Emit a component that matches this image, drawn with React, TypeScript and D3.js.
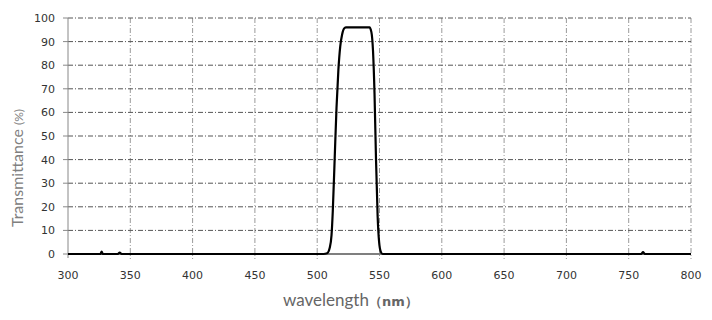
import * as d3 from 'd3';
import { useRef, useEffect } from "react"

// spectrum
const wavelengths = [300, 326, 327, 328, 340, 341.5, 343, 505, 508, 510, 511.5, 512.5, 514, 515.5, 517, 518.5, 520, 521.5, 523, 540, 542, 543.5, 544.8, 546, 547.2, 548.5, 549.7, 551, 552.5, 760, 761.5, 763, 800]
const transmittance = [0, 0, 1, 0, 0, 0.6, 0, 0, 0.3, 2.5, 8, 18, 40, 62, 78, 88, 93, 95.5, 96, 96, 96, 94, 86, 68, 40, 16, 5, 1, 0, 0, 0.8, 0, 0]

const xTicks = [300, 350, 400, 450, 500, 550, 600, 650, 700, 750, 800]
const yTicks = [0, 10, 20, 30, 40, 50, 60, 70, 80, 90, 100]

function App() {
    const ref = useRef<SVGSVGElement | null>(null)

    useEffect(() => {
        renderChart();
    }, [])

    function renderChart() {
        const margin = { top: 18, right: 21, bottom: 66, left: 68 }
        const W = 712, H = 320
        const width = W - margin.left - margin.right
        const height = H - margin.top - margin.bottom

        const root = d3.select(ref.current!)
        root.selectAll("*").remove()
        const svg = root.append("g")
            .attr("transform", "translate(" + margin.left + "," + margin.top + ")")

        const x = d3.scaleLinear().domain([300, 800]).range([0, width])
        const y = d3.scaleLinear().domain([0, 100]).range([height, 0])

        const font = "'DejaVu Sans', Verdana, sans-serif"
        const titleFont = "Lato, 'Open Sans', sans-serif"

        // vertical grid (lighter), extend a bit below the axis as ticks
        svg.append("g")
            .selectAll("line")
            .data(xTicks.slice(1))
            .enter()
            .append("line")
            .attr("x1", d => x(d)).attr("x2", d => x(d))
            .attr("y1", 0).attr("y2", height + 5)
            .attr("stroke", "#9a9a9a")
            .attr("stroke-width", 1)
            .attr("stroke-dasharray", "5,2,1,2")

        // horizontal grid
        svg.append("g")
            .selectAll("line")
            .data(yTicks.slice(1))
            .enter()
            .append("line")
            .attr("x1", 0).attr("x2", width)
            .attr("y1", d => y(d)).attr("y2", d => y(d))
            .attr("stroke", "#555")
            .attr("stroke-width", 1)
            .attr("stroke-dasharray", "5,2,1,2")

        // left axis
        svg.append("line")
            .attr("x1", 0).attr("x2", 0)
            .attr("y1", 0).attr("y2", height + 4)
            .attr("stroke", "#888")
        svg.append("g")
            .selectAll("line")
            .data(yTicks)
            .enter()
            .append("line")
            .attr("x1", -5).attr("x2", 0)
            .attr("y1", d => y(d)).attr("y2", d => y(d))
            .attr("stroke", "#888")

        // bottom axis line
        svg.append("line")
            .attr("x1", 0).attr("x2", width)
            .attr("y1", height).attr("y2", height)
            .attr("stroke", "#555")
            .attr("stroke-width", 1.5)

        // tick labels
        svg.append("g")
            .selectAll("text")
            .data(yTicks)
            .enter()
            .append("text")
            .attr("x", -13)
            .attr("y", d => y(d) + 4)
            .attr("text-anchor", "end")
            .attr("font-family", font)
            .attr("font-size", 11)
            .attr("fill", "#333")
            .text(d => d)

        svg.append("g")
            .selectAll("text")
            .data(xTicks)
            .enter()
            .append("text")
            .attr("x", d => x(d))
            .attr("y", height + 25)
            .attr("text-anchor", "middle")
            .attr("font-family", font)
            .attr("font-size", 11)
            .attr("fill", "#333")
            .text(d => d)

        // curve
        const pts = wavelengths.map((w, i) => [w, transmittance[i]] as [number, number])
        const line = d3.line<[number, number]>()
            .x(d => x(d[0]))
            .y(d => y(d[1]))
            .curve(d3.curveMonotoneX)
        svg.append("path")
            .datum(pts)
            .attr("d", line)
            .attr("fill", "none")
            .attr("stroke", "#000")
            .attr("stroke-width", 2.2)
            .attr("stroke-linejoin", "round")

        // axis titles
        const xt = svg.append("text")
            .attr("x", 215)
            .attr("y", height + 52)
            .attr("text-anchor", "start")
            .attr("font-family", titleFont)
            .attr("font-size", 17)
            .attr("fill", "#666")
        xt.append("tspan").text("wavelength")
        xt.append("tspan").attr("font-size", 13).attr("font-weight", "bold").attr("font-family", font).text("（nm）")

        const yt = svg.append("text")
            .attr("transform", "translate(-45," + (height / 2 + 32) + ") rotate(-90)")
            .attr("text-anchor", "middle")
            .attr("font-family", titleFont)
            .attr("font-size", 16)
            .attr("fill", "#808080")
        yt.append("tspan").text("Transmittance  ")
        yt.append("tspan").attr("font-size", 12).text("(%)")
    }

    return (
        <svg
            width={712}
            height={320}
            ref={ref}
            style={{ position: 'absolute', left: 0, top: 0, background: '#fff' }}
        />
    )
}

export default App;
